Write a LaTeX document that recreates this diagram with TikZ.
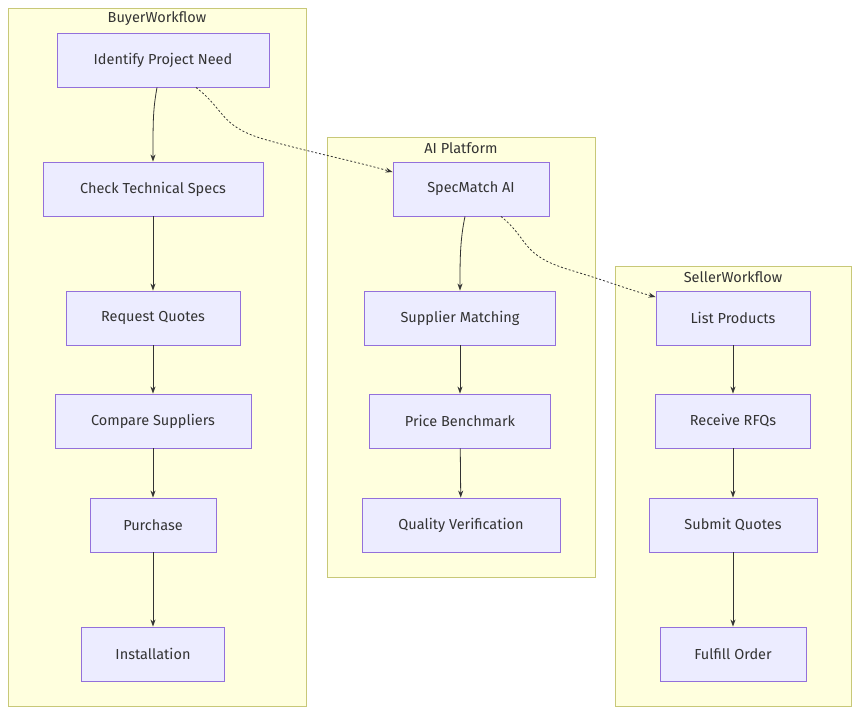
\documentclass[tikz,border=0pt]{standalone}
\usepackage{fontspec}
\setmainfont{Fira Sans}
\usetikzlibrary{arrows.meta}
\definecolor{clfill}{HTML}{FFFFDE}
\definecolor{cldraw}{HTML}{C8C878}
\definecolor{nfill}{HTML}{ECECFF}
\definecolor{ndraw}{HTML}{9370DB}
\definecolor{edge}{HTML}{333333}
\begin{document}
\begin{tikzpicture}[x=1pt,y=-1pt,
  cl/.style={draw=cldraw,fill=clfill,line width=0.9pt},
  ttl/.style={font=\fontsize{14.5}{17}\selectfont,text=edge},
  nd/.style={draw=ndraw,fill=nfill,line width=0.9pt,minimum height=54pt,inner xsep=0pt,font=\fontsize{14.5}{17}\selectfont,text=edge},
  ar/.style={draw=edge,line width=0.8pt,-{Stealth[length=7pt,width=5pt]}},
  dt/.style={ar,dash pattern=on 2pt off 2pt}]
\useasboundingbox (0,0) rectangle (860,715);
\fill[white] (0,0) rectangle (860,715);
\draw[cl] (8,8) rectangle (306,706);
\draw[cl] (327,137) rectangle (595,577);
\draw[cl] (615,266) rectangle (851,706);
\node[ttl] (t1) at (157,19) {BuyerWorkflow};
\node[ttl] (t2) at (461,148) {AI Platform};
\node[ttl] (t3) at (733,277) {SellerWorkflow};
\node[nd,minimum width=212pt] (a1) at (163,60) {Identify Project Need};
\node[nd,minimum width=220pt] (a2) at (153,189) {Check Technical Specs};
\node[nd,minimum width=174pt] (a3) at (153,318) {Request Quotes};
\node[nd,minimum width=196pt] (a4) at (153,421) {Compare Suppliers};
\node[nd,minimum width=126pt] (a5) at (153,525) {Purchase};
\node[nd,minimum width=143pt] (a6) at (153,654) {Installation};
\node[nd,minimum width=156pt] (b1) at (471,189) {SpecMatch AI};
\node[nd,minimum width=191pt] (b2) at (460,318) {Supplier Matching};
\node[nd,minimum width=181pt] (b3) at (460,421) {Price Benchmark};
\node[nd,minimum width=198pt] (b4) at (461,525) {Quality Verification};
\node[nd,minimum width=154pt] (c1) at (733,318) {List Products};
\node[nd,minimum width=155pt] (c2) at (733,421) {Receive RFQs};
\node[nd,minimum width=168pt] (c3) at (733,525) {Submit Quotes};
\node[nd,minimum width=146pt] (c4) at (733,654) {Fulfill Order};
\draw[ar] (a1.south -| 157,0) .. controls (153,110) and (153,120) .. (a2.north);
\draw[ar] (a2) -- (a3);
\draw[ar] (a3) -- (a4);
\draw[ar] (a4) -- (a5);
\draw[ar] (a5) -- (a6);
\draw[ar] (b1.south -| 465,0) .. controls (460,240) and (460,260) .. (b2.north);
\draw[ar] (b2) -- (b3);
\draw[ar] (b3) -- (b4);
\draw[ar] (c1) -- (c2);
\draw[ar] (c2) -- (c3);
\draw[ar] (c3) -- (c4);
\draw[dt] (a1.south -| 196,0) .. controls (225,110) and (220,125) .. (260,138) .. controls (300,150) and (350,160) .. (b1.west |- 0,172);
\draw[dt] (b1.south -| 501,0) .. controls (530,240) and (520,255) .. (570,270) .. controls (610,282) and (630,290) .. (c1.west |- 0,297);
\end{tikzpicture}
\end{document}
